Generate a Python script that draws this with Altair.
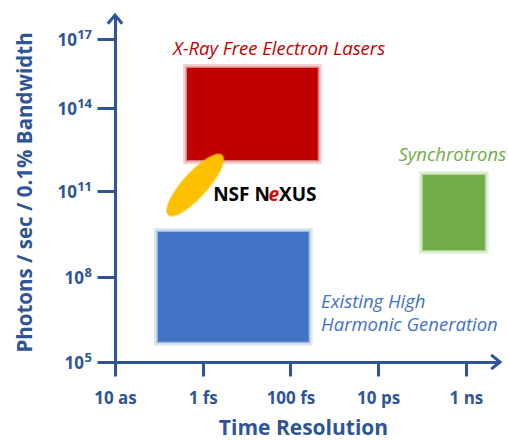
import altair as alt
import pandas as pd

# ---------------- data ----------------
# Source regions (time resolution in seconds, flux in photons/sec/0.1% BW)
region_names = ["X-Ray Free Electron Lasers", "Synchrotrons", "Existing High Harmonic Generation"]
region_t_start = [4.4e-16, 1.05e-10, 9.5e-17]
region_t_end = [4.2e-13, 2.7e-9, 2.6e-13]
region_flux_low = [1.3e12, 8.9e8, 5.2e5]
region_flux_high = [5.5e15, 3.7e11, 3.7e9]
region_colors = ["#C00000", "#70AD47", "#4472C4"]

# NSF NeXUS ellipse centre
nexus_t = [6.7e-16]
nexus_flux = [1.6e11]

# Region labels
label_texts = ["X-Ray Free Electron Lasers", "Synchrotrons", "Existing High", "Harmonic Generation"]
label_t = [2.1e-16, 2.9e-11, 5.0e-13, 5.0e-13]
label_flux = [3.8e16, 1.9e12, 1.35e7, 2.1e6]
label_colors = ["#C00000", "#70AD47", "#4472C4", "#4472C4"]

# "NSF NeXUS" label pieces
nexus_parts = ["NSF N", "e", "XUS"]
nexus_part_t = [3.4e-14, 4.2e-14, 5.5e-14]
nexus_part_flux = [7.1e10, 7.1e10, 7.1e10]

# Axes
x_ticks = [1e-17, 1e-15, 1e-13, 1e-11, 1e-9]
x_tick_labels = ["10 as", "1 fs", "100 fs", "10 ps", "1 ns"]
x_max = 6e-9
y_ticks = [1e5, 1e8, 1e11, 1e14, 1e17]
y_tick_exponents = ["5", "8", "11", "14", "17"]
y_max = 1.17e18

# ---------------- layout / style ----------------
W, H = 385, 347
AX = "#2F5597"
FONT = "Open Sans"
LABEL_SIZE = 18.5

y_range = [347, 262.3, 175.7, 92.7, 24.3, 0]

x_lab_expr = "[" + ",".join("'%s'" % s for s in x_tick_labels) + "][round((log(datum.value)/LN10 + 17)/2)]"

x_scale = alt.Scale(type="log", domain=[x_ticks[0], x_max], nice=False)
y_scale = alt.Scale(type="log", domain=y_ticks + [y_max], range=y_range, nice=False)

x_axis = alt.Axis(
    values=x_ticks, labelExpr=x_lab_expr, title="Time Resolution",
    grid=False, domainColor=AX, domainWidth=3, tickColor=AX, tickWidth=3, tickSize=14,
    labelColor=AX, labelFont=FONT, labelFontSize=17, labelFontWeight="bold", labelPadding=14,
    labelFlush=False, labelOverlap=False,
    titleColor=AX, titleFont=FONT, titleFontSize=21, titleFontWeight="bold",
    titleX=188, titleY=72, titleBaseline="alphabetic", titleAlign="center",
)
y_axis = alt.Axis(
    values=y_ticks, labels=False, title="Photons / sec / 0.1% Bandwidth",
    grid=False, domainColor=AX, domainWidth=3, tickColor=AX, tickWidth=3, tickSize=18,
    titleColor=AX, titleFont=FONT, titleFontSize=20.5, titleFontWeight="bold",
    titleX=-90, titleY=177, titleBaseline="middle", titleAlign="center", titleAngle=270,
)

def X(field="t"):
    return alt.X(f"{field}:Q", scale=x_scale, axis=x_axis)

def Y(field="flux"):
    return alt.Y(f"{field}:Q", scale=y_scale, axis=y_axis)

regions = pd.DataFrame({
    "name": region_names, "t": region_t_start, "t2": region_t_end,
    "flux": region_flux_high, "flux2": region_flux_low, "color": region_colors,
})
labels = pd.DataFrame({"text": label_texts, "t": label_t, "flux": label_flux, "color": label_colors})
nexus = pd.DataFrame({"t": nexus_t, "flux": nexus_flux})
parts = pd.DataFrame({"text": nexus_parts, "t": nexus_part_t, "flux": nexus_part_flux})
yticks_df = pd.DataFrame({"flux": y_ticks, "exp": y_tick_exponents})

base_rect = alt.Chart(regions).encode(
    x=X(), x2="t2:Q", y=Y(), y2="flux2:Q",
    color=alt.Color("color:N", scale=None), stroke=alt.Stroke("color:N", scale=None),
)
glow = base_rect.mark_rect(fillOpacity=0, strokeWidth=8, strokeOpacity=0.18)
rects = base_rect.mark_rect(strokeWidth=3, strokeOpacity=0.4)

ellipse_shape = "M -1 0 A 1 0.3 0 1 1 1 0 A 1 0.3 0 1 1 -1 0 Z"
ellipse = alt.Chart(nexus).mark_point(
    shape=ellipse_shape, size=6400, filled=True, color="#FFC000", opacity=1,
    angle=312, stroke="#FFC000", strokeWidth=2, strokeOpacity=0.5,
).encode(x=X(), y=Y())

text_labels = alt.Chart(labels).mark_text(
    align="left", baseline="middle", font=FONT, fontSize=LABEL_SIZE, fontStyle="italic",
).encode(x=X(), y=Y(), text="text:N", color=alt.Color("color:N", scale=None))

nexus_first = alt.Chart(parts[parts["text"] == "NSF N"]).mark_text(
    align="right", baseline="middle", font=FONT, fontSize=19, fontWeight="bold", color="#000000",
).encode(x=X(), y=Y(), text="text:N")
nexus_e = alt.Chart(parts[parts["text"] == "e"]).mark_text(
    align="center", baseline="middle", font=FONT, fontSize=19, fontWeight="bold",
    fontStyle="italic", color="#E00000",
).encode(x=X(), y=Y(), text="text:N")
nexus_last = alt.Chart(parts[parts["text"] == "XUS"]).mark_text(
    align="left", baseline="middle", font=FONT, fontSize=19, fontWeight="bold", color="#000000",
).encode(x=X(), y=Y(), text="text:N")

# y tick labels as 10 + superscript exponent
ytick_base = alt.Chart(yticks_df)
exp_labels = ytick_base.mark_text(
    align="right", baseline="middle", font=FONT, fontSize=13, fontWeight="bold", color=AX, dy=-4,
).encode(x=alt.value(-23), y=Y(), text="exp:N")
ten_two = ytick_base.transform_filter("length(datum.exp) > 1").mark_text(
    align="right", baseline="middle", font=FONT, fontSize=17, fontWeight="bold", color=AX, dy=2,
).encode(x=alt.value(-38), y=Y(), text=alt.value("10"))
ten_one = ytick_base.transform_filter("length(datum.exp) == 1").mark_text(
    align="right", baseline="middle", font=FONT, fontSize=17, fontWeight="bold", color=AX, dy=2,
).encode(x=alt.value(-31), y=Y(), text=alt.value("10"))

arrow_shape = "M -0.9 1.1 L 0 0 L 0.9 1.1"
arrow_df = pd.DataFrame({"a": [0]})
arrow_up = alt.Chart(arrow_df).mark_point(
    shape=arrow_shape, size=256, filled=False, color=AX, strokeWidth=3, opacity=1,
).encode(x=alt.value(0), y=alt.value(0))
arrow_right = alt.Chart(arrow_df).mark_point(
    shape=arrow_shape, size=256, filled=False, color=AX, strokeWidth=3, opacity=1, angle=90,
).encode(x=alt.value(W), y=alt.value(H))

chart = alt.layer(
    glow, rects, ellipse, text_labels, nexus_first, nexus_e, nexus_last,
    exp_labels, ten_two, ten_one, arrow_up, arrow_right
).properties(
    width=W, height=H,
    autosize=alt.AutoSizeParams(type="none"),
    padding={"left": 115, "top": 15, "right": 8, "bottom": 79},
    background="white",
).configure_view(stroke=None)

chart.save("out.html", embed_options={"renderer": "svg", "actions": False})
